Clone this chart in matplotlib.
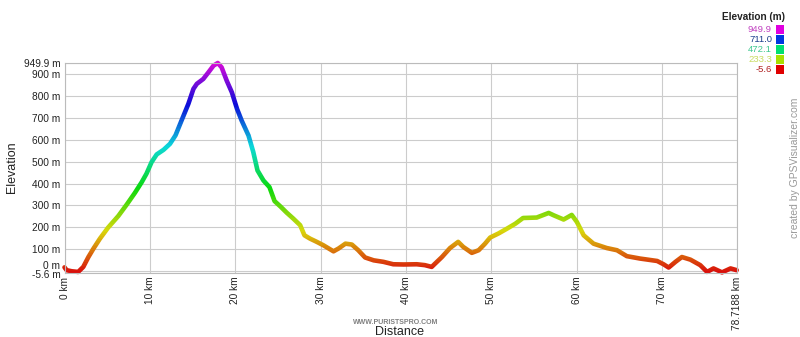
#elevation profile, coloured by height like the GPSVisualizer output
import numpy as np
import matplotlib
matplotlib.use('Agg')
import matplotlib.pyplot as plt
from matplotlib.colors import hsv_to_rgb
from matplotlib.patches import Rectangle
from matplotlib.transforms import ScaledTranslation

plt.rcParams['font.family'] = ['Liberation Sans', 'DejaVu Sans']

dist_km = [0.0, 0.25, 0.85, 1.6, 2.2, 2.8, 3.4, 4.15, 5.1, 6.3, 7.3, 8.25, 9.05, 9.6,
           10.2, 10.8, 11.6, 12.35, 13.0, 13.7, 14.5, 15.1, 15.5, 16.25, 16.85, 17.45,
           17.95, 18.4, 19.0, 19.6, 20.2, 20.75, 21.55, 22.1, 22.6, 23.3, 24.0, 24.6,
           25.3, 26.0, 26.8, 27.6, 28.1, 28.75, 29.55, 30.3, 31.5, 32.1, 32.9, 33.65,
           34.4, 35.2, 36.2, 37.35, 38.5, 39.7, 41.25, 42.2, 43.0, 43.4, 44.2, 45.15,
           46.1, 46.7, 47.7, 48.5, 49.25, 49.85, 50.8, 51.8, 52.8, 53.7, 55.3, 56.7,
           57.3, 58.45, 59.4, 60.0, 60.8, 61.95, 63.5, 64.7, 65.85, 67.4, 69.4, 70.15,
           70.75, 71.55, 72.3, 73.3, 74.45, 75.25, 76.0, 77.0, 78.0, 78.7188]
elev_m = [18, 5, 0, -3, 20, 65, 104, 149, 199, 252, 305, 358, 407, 445,
          498, 533, 554, 581, 620, 687, 763, 832, 855, 877, 907, 938,
          949.9, 930, 869, 816, 741, 687, 619, 545, 460, 414, 384, 320,
          295, 268, 240, 210, 164, 149, 134, 119, 91, 104, 126, 122,
          96, 63, 50, 43, 32, 31, 32, 28, 20, 35, 65, 106,
          134, 111, 84, 96, 126, 154, 172, 194, 217, 243, 245, 266,
          255, 236, 257, 225, 164, 126, 106, 96, 69, 58, 47, 32,
          17, 43, 65, 53, 28, -3, 13, -5, 13, 5]

x_ticks = [0, 10, 20, 30, 40, 50, 60, 70, 78.7188]
x_labels = ['0 km', '10 km', '20 km', '30 km', '40 km', '50 km', '60 km', '70 km', '78.7188 km']
y_ticks = [-5.6, 0, 100, 200, 300, 400, 500, 600, 700, 800, 900, 949.9]
y_labels = ['-5.6 m', '0 m', '100 m', '200 m', '300 m', '400 m', '500 m', '600 m',
            '700 m', '800 m', '900 m', '949.9 m']
legend_vals = ['949.9', '711.0', '472.1', '233.3', '-5.6']
legend_text_colors = ['#c040c0', '#1c3f8c', '#40c890', '#c8dc60', '#b02020']

emin, emax = -5.6, 949.9


def HeightColor(e, s=0.95, v=0.85):
    f = (e - emin) / (emax - emin)
    f = min(max(f, 0.0), 1.0)
    return hsv_to_rgb([300.0 / 360.0 * f, s, v])


fig = plt.figure(figsize=(8, 3.37), dpi=100)
ax = fig.add_axes([64.5 / 800, 64.5 / 337, 672.2 / 800, 209.5 / 337])
ax.set_xlim(0, 78.7188)
ax.set_ylim(emin, emax)

# draw the profile once per height band, clipped to that band
nbands = 120
edges = np.linspace(emin, emax, nbands + 1)
for i in range(nbands):
    lo = edges[i] if i > 0 else -200
    hi = edges[i + 1] if i < nbands - 1 else 2000
    mid = 0.5 * (edges[i] + edges[i + 1])
    line, = ax.plot(dist_km, elev_m, color=HeightColor(mid), lw=3.3,
                    solid_joinstyle='round', solid_capstyle='round')
    line.set_clip_path(Rectangle((-5, lo), 90, hi - lo, transform=ax.transData))

ax.set_xticks(x_ticks)
ax.set_xticklabels(x_labels, rotation=90, fontsize=7.3, color='#222222')
ax.set_yticks(y_ticks)
ax.set_yticklabels(y_labels, fontsize=7.3, color='#222222')
ax.tick_params(length=0, pad=3)
ax.grid(True, color='#cccccc', lw=0.8)
ax.set_axisbelow(True)
for sp in ax.spines.values():
    sp.set_color('#bbbbbb')
    sp.set_linewidth(0.8)

# nudge the crowded labels apart
labs = ax.get_yticklabels()
labs[1].set_transform(labs[1].get_transform() + ScaledTranslation(0, 6 / 100, fig.dpi_scale_trans))
labs[0].set_transform(labs[0].get_transform() + ScaledTranslation(0, -2 / 100, fig.dpi_scale_trans))

fig.text(12 / 800, 1 - 167 / 337, 'Elevation', rotation=90, ha='center', va='center',
         fontsize=9, color='#222222')
fig.text(400 / 800, 1 - 332 / 337, 'Distance', ha='center', va='center',
         fontsize=9, color='#222222')
fig.text(396 / 800, 1 - 322.5 / 337, 'WWW.PURISTSPRO.COM', ha='center', va='center',
         fontsize=5, color='#808080', fontweight='bold')
fig.text(795 / 800, 1 - 168 / 337, 'created by GPSVisualizer.com', rotation=90,
         ha='center', va='center', fontsize=7.5, color='#999999')

# elevation legend, top right
fig.text(785 / 800, 1 - 17 / 337, 'Elevation (m)', ha='right', va='center',
         fontsize=7.2, fontweight='bold', color='#222222')
for i, val in enumerate(legend_vals):
    yc = 29.5 + 10 * i
    fig.text(772 / 800, 1 - yc / 337, val, ha='right', va='center',
             fontsize=6.8, color=legend_text_colors[i])
    e = float(val)
    fig.patches.append(Rectangle((776 / 800, 1 - (yc + 4) / 337), 8 / 800, 8 / 337,
                                 transform=fig.transFigure,
                                 facecolor=HeightColor(e, 1.0, 0.88), edgecolor='none'))

fig.savefig('out.png', dpi=100, facecolor='white')
plt.close()
